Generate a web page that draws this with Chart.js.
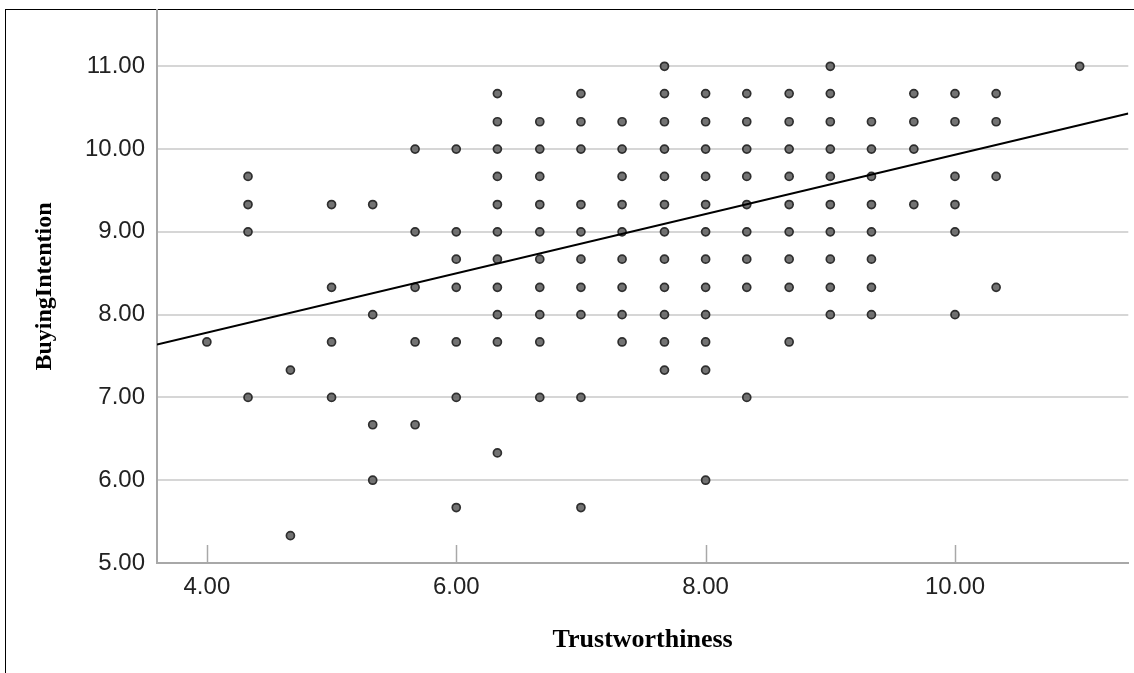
<!DOCTYPE html>
<html>
<head>
<meta charset="utf-8">
<script src="https://cdn.jsdelivr.net/npm/chart.js@4.4.1/dist/chart.umd.min.js"></script>
<style>
    html, body { margin: 0; padding: 0; background: #fff; overflow: hidden; }
    #frame { position: absolute; left: 5px; top: 9px; width: 1300px; height: 800px; border: 1px solid #000; }
    #wrap { position: absolute; left: 0; top: 0; width: 1134px; height: 673px; }
</style>
</head>
<body>
<div id="frame"></div>
<div id="wrap"><canvas id="chart" width="1134" height="673"></canvas></div>
<script>
// Colonnes de Trustworthiness (x) et valeurs de BuyingIntention (y) observées pour chacune
const trustLevels = [4.00, 4.33, 4.67, 5.00, 5.33, 5.67, 6.00, 6.33, 6.67, 7.00, 7.33,
                     7.67, 8.00, 8.33, 8.67, 9.00, 9.33, 9.67, 10.00, 10.33, 11.00];
const buyingByLevel = [
    [7.67],
    [9.67, 9.33, 9.00, 7.00],
    [7.33, 5.33],
    [9.33, 8.33, 7.67, 7.00],
    [9.33, 8.00, 6.67, 6.00],
    [10.00, 9.00, 8.33, 7.67, 6.67],
    [10.00, 9.00, 8.67, 8.33, 7.67, 7.00, 5.67],
    [10.67, 10.33, 10.00, 9.67, 9.33, 9.00, 8.67, 8.33, 8.00, 7.67, 6.33],
    [10.33, 10.00, 9.67, 9.33, 9.00, 8.67, 8.33, 8.00, 7.67, 7.00],
    [10.67, 10.33, 10.00, 9.33, 9.00, 8.67, 8.33, 8.00, 7.00, 5.67],
    [10.33, 10.00, 9.67, 9.33, 9.00, 8.67, 8.33, 8.00, 7.67],
    [11.00, 10.67, 10.33, 10.00, 9.67, 9.33, 9.00, 8.67, 8.33, 8.00, 7.67, 7.33],
    [10.67, 10.33, 10.00, 9.67, 9.33, 9.00, 8.67, 8.33, 8.00, 7.67, 7.33, 6.00],
    [10.67, 10.33, 10.00, 9.67, 9.33, 9.00, 8.67, 8.33, 7.00],
    [10.67, 10.33, 10.00, 9.67, 9.33, 9.00, 8.67, 8.33, 7.67],
    [11.00, 10.67, 10.33, 10.00, 9.67, 9.33, 9.00, 8.67, 8.33, 8.00],
    [10.33, 10.00, 9.67, 9.33, 9.00, 8.67, 8.33, 8.00],
    [10.67, 10.33, 10.00, 9.33],
    [10.67, 10.33, 9.67, 9.33, 9.00, 8.00],
    [10.67, 10.33, 9.67, 8.33],
    [11.00]
];

// Droite de régression (extrémités)
const fitX = [3.60, 11.39];
const fitY = [7.64, 10.43];

// Graduations des axes
const xTicks = [4, 6, 8, 10];
const yTicks = [5, 6, 7, 8, 9, 10, 11];
const xRange = [3.60, 11.39];
const yRange = [5.00, 11.68];

const AXIS_GREY = '#a8a8a8';

// On aplatit les colonnes en points {x, y}
const scatterPoints = [];
trustLevels.forEach((lvl, i) => {
    buyingByLevel[i].forEach(v => scatterPoints.push({ x: lvl, y: v }));
});

// Petites graduations vers l'intérieur sur l'axe x
const innerTicks = {
    id: 'innerTicks',
    afterDatasetsDraw(chart) {
        const xs = chart.scales.x;
        const ctx = chart.ctx;
        ctx.save();
        ctx.strokeStyle = AXIS_GREY;
        ctx.lineWidth = 1.5;
        xs.ticks.forEach(t => {
            const px = Math.round(xs.getPixelForValue(t.value)) + 0.5;
            ctx.beginPath();
            ctx.moveTo(px, xs.top);
            ctx.lineTo(px, xs.top - 18);
            ctx.stroke();
        });
        ctx.restore();
    }
};

new Chart(document.getElementById('chart'), {
    type: 'scatter',
    data: {
        datasets: [
            {
                type: 'line',
                data: fitX.map((x, i) => ({ x: x, y: fitY[i] })),
                borderColor: '#000',
                borderWidth: 2,
                pointRadius: 0,
                fill: false,
                order: 0
            },
            {
                data: scatterPoints,
                pointRadius: 4,
                pointBorderWidth: 1.7,
                backgroundColor: 'rgba(100,100,100,0.9)',
                borderColor: 'rgba(40,40,40,0.95)',
                order: 1
            }
        ]
    },
    options: {
        responsive: false,
        animation: false,
        layout: { padding: { top: 10, right: 5, left: 0, bottom: 0 } },
        plugins: { legend: { display: false }, tooltip: { enabled: false } },
        scales: {
            x: {
                type: 'linear',
                min: xRange[0],
                max: xRange[1],
                afterBuildTicks: s => { s.ticks = xTicks.map(v => ({ value: v })); },
                afterFit: s => { s.height = 110; s.paddingLeft = 0; s.paddingRight = 0; },
                grid: { drawOnChartArea: false, drawTicks: false },
                border: { color: AXIS_GREY, width: 2 },
                ticks: {
                    padding: 10,
                    color: '#222',
                    font: { family: 'Liberation Sans', size: 24 },
                    callback: v => Number(v).toFixed(2)
                },
                title: {
                    display: true,
                    text: 'Trustworthiness',
                    color: '#000',
                    font: { family: 'Liberation Serif', size: 26, weight: 'bold' },
                    padding: { top: 0, bottom: 17 }
                }
            },
            y: {
                type: 'linear',
                min: yRange[0],
                max: yRange[1],
                afterBuildTicks: s => { s.ticks = yTicks.map(v => ({ value: v })); },
                afterFit: s => { s.width = 157; s.paddingTop = 0; s.paddingBottom = 0; },
                grid: { color: '#d6d6d6', lineWidth: 2, drawTicks: false },
                border: { color: AXIS_GREY, width: 2 },
                ticks: {
                    padding: 12,
                    color: '#222',
                    font: { family: 'Liberation Sans', size: 24 },
                    callback: v => Number(v).toFixed(2)
                },
                title: {
                    display: true,
                    text: 'BuyingIntention',
                    color: '#000',
                    font: { family: 'Liberation Serif', size: 24, weight: 'bold' },
                    padding: { top: 30, bottom: 0 }
                }
            }
        }
    },
    plugins: [innerTicks]
});
</script>
</body>
</html>
